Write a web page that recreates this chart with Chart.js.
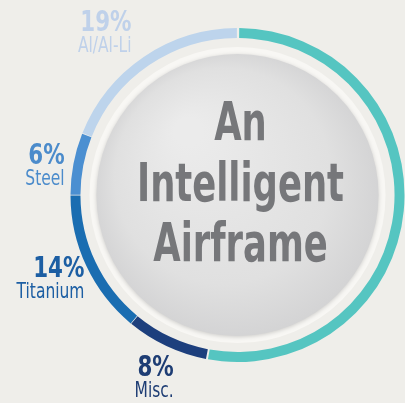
<!DOCTYPE html>
<html>
<head>
<meta charset="utf-8">
<script src="https://cdn.jsdelivr.net/npm/chart.js@4.4.0/dist/chart.umd.min.js"></script>
<style>
  html, body { margin: 0; padding: 0; background: #efeeea; }
  #wrap { width: 405px; height: 403px; }
</style>
</head>
<body>
<div id="wrap"><canvas id="airframeChart"></canvas></div>
<script>
// material share, clockwise from 12 o'clock
var materials = ["Composites", "Misc.", "Titanium", "Steel", "Al/Al-Li"];
var shares = [53, 8, 14, 6, 19];
var showLabel = [false, true, true, true, true];
var titleLines = ["An", "Intelligent", "Airframe"];

var ringColors = ["#55c5c1", "#1d3f7d", "#1a6db1", "#4b8fd1", "#bdd4ec"];
var labelColors = ["#55c5c1", "#1e3d74", "#1c5ea3", "#4b8bcb", "#bfd1ea"];
// small nudges so labels sit where the original put them
var labelNudge = [[0, 0], [12, 21], [8, 7], [2, 3], [-6, -16]];

var narrow = '"Liberation Sans Narrow", "DejaVu Sans Condensed", "Roboto", sans-serif';

var centerDisc = {
  id: "centerDisc",
  beforeDatasetsDraw: function(chart) {
    var arc = chart.getDatasetMeta(0).data[0];
    var ctx = chart.ctx;
    var cx = arc.x, cy = arc.y;
    ctx.save();
    // pale halo
    ctx.beginPath();
    ctx.arc(cx, cy, arc.innerRadius - 8, 0, Math.PI * 2);
    ctx.fillStyle = "#f8f7f4";
    ctx.fill();
    // grey disc
    var r = arc.innerRadius - 15;
    var g = ctx.createRadialGradient(cx - r * 0.35, cy - r * 0.45, r * 0.1, cx, cy, r * 1.05);
    g.addColorStop(0, "#ebebeb");
    g.addColorStop(0.7, "#e0e0e0");
    g.addColorStop(1, "#d2d2d3");
    ctx.beginPath();
    ctx.arc(cx, cy, r, 0, Math.PI * 2);
    ctx.fillStyle = g;
    ctx.shadowColor = "rgba(0,0,0,0.18)";
    ctx.shadowBlur = 4;
    ctx.shadowOffsetY = 1;
    ctx.fill();
    ctx.restore();
  },
  afterDatasetsDraw: function(chart) {
    var meta = chart.getDatasetMeta(0);
    var ctx = chart.ctx;
    var cx = meta.data[0].x, cy = meta.data[0].y;
    ctx.save();
    // title in the disc
    ctx.fillStyle = "#76777a";
    ctx.textAlign = "center";
    ctx.textBaseline = "alphabetic";
    ctx.font = "bold 54px " + narrow;
    var w = ctx.measureText(titleLines[1]).width;
    var sx = 207 / w;
    for (var i = 0; i < titleLines.length; i++) {
      ctx.save();
      ctx.translate(cx + 3, cy - 55 + i * 60.5);
      ctx.scale(sx, 1);
      ctx.fillText(titleLines[i], 0, 0);
      ctx.restore();
    }
    // outside labels
    ctx.textAlign = "right";
    meta.data.forEach(function(el, idx) {
      if (!showLabel[idx]) return;
      var mid = (el.startAngle + el.endAngle) / 2;
      var rr = el.outerRadius + 12;
      var x = cx + Math.cos(mid) * rr + labelNudge[idx][0];
      var y = cy + Math.sin(mid) * rr + labelNudge[idx][1];
      ctx.save();
      ctx.translate(x, y);
      ctx.scale(0.82, 1);
      ctx.fillStyle = labelColors[idx];
      ctx.font = "bold 29px " + narrow;
      ctx.fillText(shares[idx] + "%", 0, -1);
      ctx.font = "21px " + narrow;
      ctx.fillText(materials[idx], 0, 20);
      ctx.restore();
    });
    ctx.restore();
  }
};

new Chart(document.getElementById("airframeChart"), {
  type: "doughnut",
  data: {
    labels: materials,
    datasets: [{
      data: shares,
      backgroundColor: ringColors,
      borderWidth: 0,
      spacing: 2
    }]
  },
  options: {
    responsive: true,
    maintainAspectRatio: false,
    animation: false,
    cutout: "94%",
    layout: { padding: { left: 70, right: 0, top: 28, bottom: 41 } },
    plugins: {
      legend: { display: false },
      tooltip: { enabled: false }
    }
  },
  plugins: [centerDisc]
});
</script>
</body>
</html>
